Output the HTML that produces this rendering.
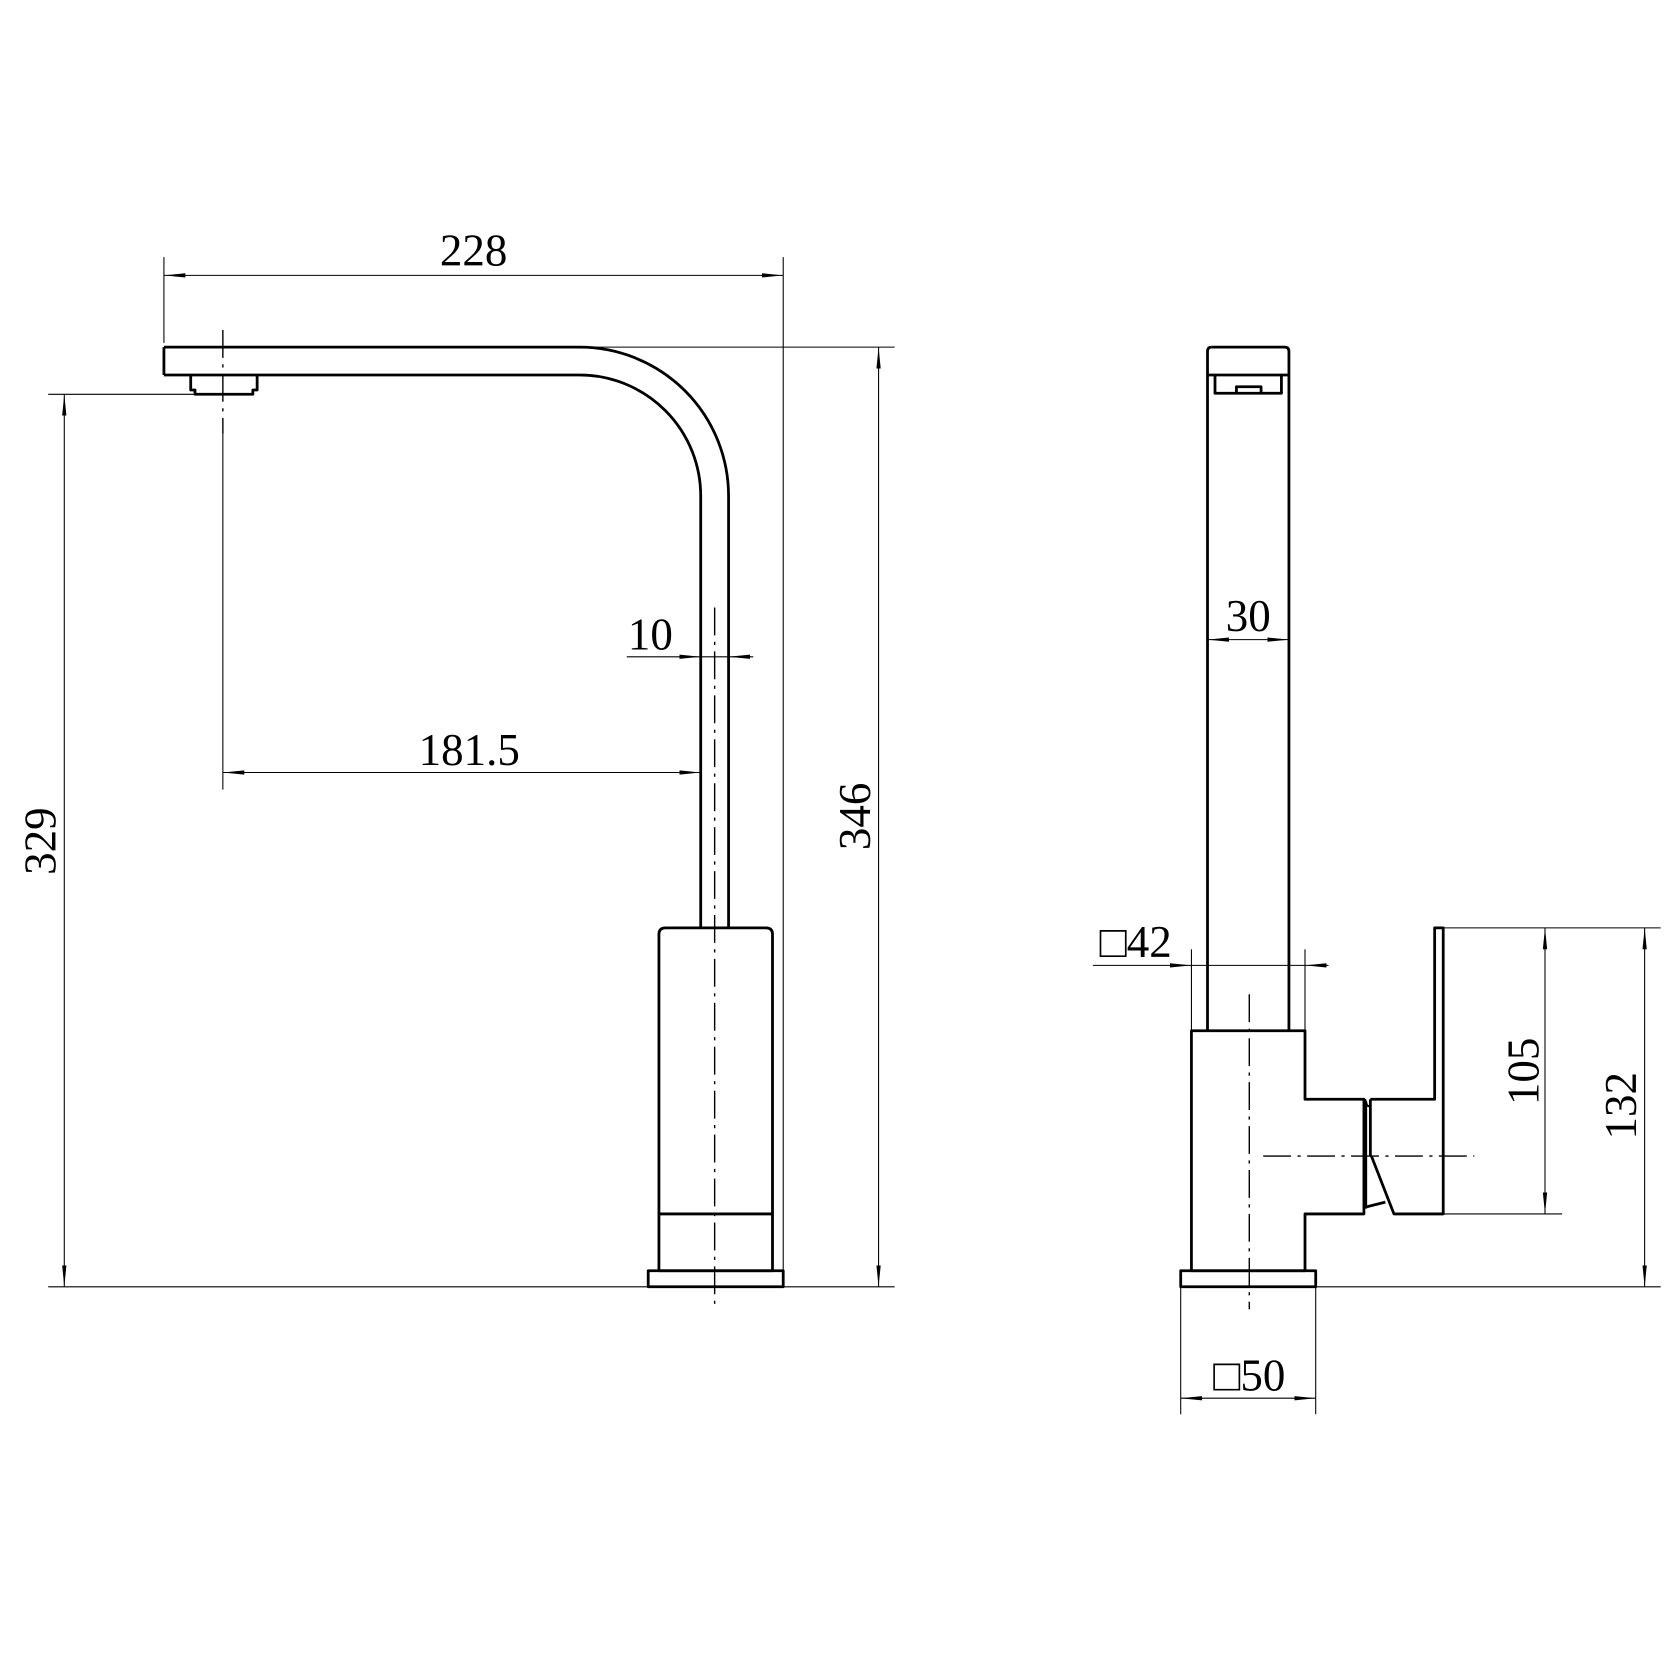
<!DOCTYPE html>
<html><head><meta charset="utf-8"><style>
html,body{margin:0;padding:0;background:#fff;}
svg{display:block;}
text{font-family:"Liberation Serif","Noto Serif CJK SC",serif;font-size:42px;fill:#000;}
</style></head><body>
<svg width="1680" height="1680" viewBox="0 0 1568 1568" xmlns="http://www.w3.org/2000/svg">
<defs>
<marker id="a" viewBox="0 0 20 6" refX="20" refY="3" markerWidth="20" markerHeight="6" markerUnits="userSpaceOnUse" orient="auto-start-reverse">
<path d="M0,1 L20,3 L0,5 z" fill="#000"/></marker>
</defs>
<g fill="none" stroke="#000" stroke-width="2.6" stroke-linejoin="round">
<!-- LEFT VIEW -->
<path d="M153,324 H541 A139,139 0 0 1 680,463 V866"/>
<path d="M153,350 H541 A113,113 0 0 1 654,463 V866"/>
<path d="M153,324 V350"/>
<path d="M178,350 V364 H182 V368 H236 V364 H240 V350"/>
<path d="M621,866 H715 Q721,866 721,872 V1186 H615 V872 Q615,866 621,866 Z"/>
<path d="M615,1133 H721"/>
<rect x="605" y="1186" width="126" height="15"/>
<!-- RIGHT VIEW -->
<path d="M1131,324 H1199 Q1203,324 1203,328 V962"/>
<path d="M1131,324 Q1127,324 1127,328 V962"/>
<path d="M1127,350 H1203"/>
<path d="M1134,350 V367 H1196 V350"/>
<path d="M1154,367 V361 H1177 V367"/>
<path d="M1112,962 H1218 V1026 H1273 V1133 H1218 V1186 H1112 Z"/>
<rect x="1102" y="1186" width="126" height="15"/>
<path d="M1279,1026 H1339 V866 H1347 V1133 H1301 L1280,1079"/>
<path d="M1279,1026 V1079"/>
<path d="M1273,1127 L1293,1122"/>
<path d="M1274,1026 L1276,1032 L1280,1033" stroke-width="2"/>
<path d="M1274,1028 V1128" stroke-width="4"/>
</g>
<!-- centerlines -->
<g fill="none" stroke="#000" stroke-width="1.3" stroke-dasharray="26,6,3,6">
<path d="M208,308 V405"/>
<path d="M667,567 V1222"/>
<path d="M1166,928 V1222"/>
<path d="M1179,1079 H1376"/>
</g>
<!-- dimension lines -->
<g fill="none" stroke="#000" stroke-width="1">
<path d="M208,405 V737"/>
<path d="M153,240 V320"/><path d="M731,240 V1186"/>
<path d="M153,257 H731" marker-start="url(#a)" marker-end="url(#a)"/>
<path d="M585,613 H654" marker-end="url(#a)"/>
<path d="M703,613 H680" marker-end="url(#a)"/>
<path d="M654,613 H680"/>
<path d="M208,721 H654" marker-start="url(#a)" marker-end="url(#a)"/>
<path d="M541,324 H835"/><path d="M45,1201 H835"/>
<path d="M820,324 V1201" marker-start="url(#a)" marker-end="url(#a)"/>
<path d="M45,368 H200"/>
<path d="M60,368 V1201" marker-start="url(#a)" marker-end="url(#a)"/>
<!-- right -->
<path d="M1127,597 H1203" marker-start="url(#a)" marker-end="url(#a)"/>
<path d="M1112,886 V962"/><path d="M1218,886 V962"/>
<path d="M1020,901 H1112" marker-end="url(#a)"/>
<path d="M1240,901 H1218" marker-end="url(#a)"/>
<path d="M1112,901 H1218"/>
<path d="M1102,1201 V1320"/><path d="M1228,1201 V1320"/>
<path d="M1102,1305 H1228" marker-start="url(#a)" marker-end="url(#a)"/>
<path d="M1347,866 H1550"/><path d="M1347,1133 H1458"/><path d="M1228,1201 H1550"/>
<path d="M1442,866 V1133" marker-start="url(#a)" marker-end="url(#a)"/>
<path d="M1535,866 V1201" marker-start="url(#a)" marker-end="url(#a)"/>
</g>
<g>
<text x="442" y="248" text-anchor="middle">228</text>
<text x="607" y="606" text-anchor="middle">10</text>
<text x="438" y="714" text-anchor="middle">181.5</text>
<text transform="translate(812,762) rotate(-90)" text-anchor="middle">346</text>
<text transform="translate(52,785) rotate(-90)" text-anchor="middle">329</text>
<text x="1165" y="589" text-anchor="middle">30</text>
<text x="1060" y="893" text-anchor="middle">□42</text>
<text x="1166" y="1298" text-anchor="middle">□50</text>
<text transform="translate(1436,1000) rotate(-90)" text-anchor="middle">105</text>
<text transform="translate(1527,1032) rotate(-90)" text-anchor="middle">132</text>
</g>
</svg>
</body></html>
